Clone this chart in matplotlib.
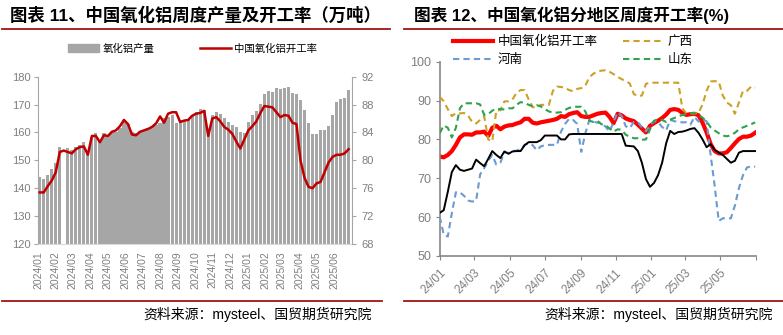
import matplotlib
matplotlib.use("Agg")
import matplotlib.pyplot as plt
from matplotlib.lines import Line2D
from matplotlib.patches import Patch
import numpy as np
import pandas as pd

plt.rcParams["font.family"] = ["Liberation Sans", "Noto Sans CJK SC", "DejaVu Sans"]

# ---- left panel: weekly alumina output (10k t) and operating rate (%) ----
output = [144.0, 143.4, 144.7, 146.8, 149.2, 154.7, np.nan, 154.3, 153.7, 154.9,
          155.5, 156.7, 152.5, 158.5, 159.7, 157.3, 159.7, 159.1, 160.3, 160.3,
          161.5, 163.9, 163.0, 160.3, 159.7, 160.5, 160.9, 161.5, 162.1, 162.7,
          163.3, 165.1, 165.7, 166.3, 163.3, 164.5, 164.5, 164.7, 166.3, 167.5,
          168.3, 168.0, 161.0, 166.3, 167.2, 166.8, 165.2, 163.7, 162.7, 162.0,
          160.2, 159.8, 163.6, 166.2, 167.6, 170.3, 173.8, 174.9, 174.6, 175.8,
          175.5, 176.0, 176.3, 174.2, 173.7, 171.5, 168.0, 163.5, 159.5, 159.6,
          160.8, 160.9, 162.2, 166.3, 171.1, 172.0, 172.3, 175.1]
op_rate = [75.4, 75.4, 76.3, 77.1, 78.3, 81.2, 81.4, 81.2, 81.0, 81.6,
           81.9, 82.0, 80.8, 83.5, 83.5, 82.6, 83.6, 83.5, 84.1, 84.3,
           84.9, 85.8, 85.2, 83.7, 83.6, 84.1, 84.3, 84.5, 84.8, 85.3,
           86.3, 85.4, 86.7, 86.9, 86.9, 85.5, 85.7, 85.8, 86.4, 86.7,
           86.8, 87.1, 83.5, 86.0, 86.2, 85.6, 84.8, 84.4, 83.8, 82.7,
           81.7, 83.0, 84.3, 84.9, 85.6, 86.8, 87.8, 87.7, 87.6, 86.9,
           86.2, 86.5, 86.4, 85.4, 85.2, 80.0, 77.5, 76.2, 76.0, 76.7,
           76.9, 78.3, 79.7, 80.5, 80.8, 80.8, 81.0, 81.6]
weeks_l = pd.date_range("2024-01-04", periods=len(output), freq="7D")
month_ticks = pd.date_range("2024-01-01", "2025-06-01", freq="MS")
month_labels = [d.strftime("%Y/%m") for d in month_ticks]

# ---- right panel: operating rate by region (%) ----
china = [75.6, 75.4, 76.0, 77.0, 78.6, 80.5, 81.3, 81.3, 81.2, 81.8,
         81.8, 82.0, 80.9, 83.0, 83.5, 82.6, 83.3, 83.6, 83.7, 84.1,
         84.4, 85.3, 85.3, 84.3, 84.1, 84.4, 84.6, 84.8, 85.0, 85.3,
         86.0, 85.8, 86.5, 86.8, 87.0, 86.0, 85.8, 85.8, 86.2, 86.6,
         86.8, 86.9, 85.8, 84.2, 86.6, 86.2, 85.4, 85.0, 84.7, 83.8,
         82.8, 81.8, 83.5, 84.2, 84.8, 85.5, 86.4, 87.6, 87.8, 87.6,
         86.8, 86.3, 86.5, 86.6, 86.2, 84.3, 81.8, 78.8, 77.0, 76.4,
         76.4, 76.7, 77.8, 79.0, 80.1, 80.7, 80.7, 81.0, 81.7]
other_region = [61.1, 61.8, 66.5, 71.6, 73.4, 72.2, 71.9, 72.2, 72.5, 74.8,
                73.9, 73.1, 75.0, 77.0, 76.0, 75.2, 76.9, 76.3, 76.9, 77.0,
                77.0, 78.5, 79.3, 79.3, 79.3, 79.8, 81.0, 81.0, 81.0, 81.0,
                80.0, 80.0, 81.3, 81.4, 81.4, 81.4, 81.4, 81.4, 81.4, 81.4,
                81.4, 81.4, 81.4, 81.4, 81.4, 81.4, 78.4, 78.3, 78.2, 77.0,
                74.0, 69.8, 67.8, 68.8, 70.8, 74.0, 79.0, 82.2, 81.4, 81.9,
                82.0, 82.3, 82.7, 82.9, 81.7, 80.0, 78.0, 78.8, 77.3, 76.6,
                76.0, 75.0, 74.0, 74.5, 76.6, 77.0, 77.0, 77.0, 77.0]
henan = [60.1, 55.5, 55.0, 61.0, 66.4, 66.4, 65.5, 64.3, 64.0, 64.2,
         71.0, 72.6, 74.5, 76.0, 73.5, 74.0, 76.7, 76.5, 77.0, 77.1,
         77.5, 78.6, 79.0, 78.5, 77.2, 78.2, 78.5, 78.6, 78.6, 78.6,
         82.0, 84.0, 85.3, 85.0, 84.0, 76.8, 81.5, 85.0, 84.6, 84.3,
         84.2, 83.3, 82.0, 84.5, 87.0, 86.0, 83.4, 82.9, 84.5, 84.5,
         83.1, 82.1, 83.6, 84.7, 84.5, 83.2, 82.3, 85.0, 84.7, 84.5,
         84.4, 84.4, 83.8, 85.8, 84.6, 85.0, 84.7, 76.0, 68.0, 59.0,
         59.7, 59.7, 59.7, 63.0, 67.5, 70.8, 72.8, 73.0, 73.0]
guangxi = [91.0, 89.8, 87.8, 86.0, 86.8, 86.7, 86.8, 86.2, 84.5, 84.1,
           85.0, 86.0, 80.0, 79.5, 87.5, 87.5, 89.8, 89.8, 90.3, 92.0,
           92.7, 92.7, 90.3, 88.3, 88.2, 88.9, 88.9, 88.9, 92.5, 93.6,
           93.5, 93.3, 92.7, 92.4, 93.0, 93.2, 93.8, 96.0, 96.9, 97.5,
           97.7, 97.8, 97.4, 96.8, 96.1, 95.5, 95.0, 94.4, 91.7, 91.1,
           91.3, 94.3, 94.6, 94.6, 94.6, 94.6, 94.6, 94.6, 94.6, 94.6,
           88.0, 86.7, 86.7, 86.7, 86.8, 89.0, 92.5, 94.9, 95.0, 94.9,
           91.3, 89.5, 88.8, 86.6, 89.5, 92.5, 92.5, 93.6, 93.3]
shandong = [81.6, 83.6, 83.0, 80.5, 83.0, 88.0, 89.3, 89.3, 89.3, 89.3,
            89.0, 86.3, 86.5, 87.4, 87.9, 87.8, 87.7, 88.0, 88.0, 88.9,
            89.6, 89.4, 88.9, 88.5, 88.8, 88.5, 87.8, 87.2, 86.9, 86.9,
            87.0, 87.6, 88.1, 88.4, 88.4, 88.4, 87.2, 84.8, 84.5, 84.8,
            83.9, 83.7, 82.8, 82.0, 82.6, 82.5, 81.2, 80.7, 80.3, 80.3,
            79.9, 80.0, 82.6, 84.8, 85.2, 85.0, 84.5, 85.1, 85.5, 85.9,
            86.3, 86.5, 86.7, 86.7, 86.3, 85.6, 84.6, 83.1, 82.3, 81.6,
            81.0, 80.8, 81.1, 81.7, 82.6, 83.1, 83.5, 83.9, 84.4]
weeks_r = pd.date_range("2024-01-01", periods=len(china), freq="7D")
bimonth_ticks = pd.date_range("2024-01-01", "2025-07-01", freq="2MS")
bimonth_labels = [d.strftime("%y/%m") for d in bimonth_ticks][:-1] + [""]

W, H = 783, 335
fig = plt.figure(figsize=(W / 100, H / 100), dpi=100)

gray_txt = "#7F7F7F"
axis_gray = "#A6A6A6"
rule_red = "#A31515"


def fx(px):
    return px / W


def fy(py):
    return 1 - py / H


# headers, rules and source notes
fig.text(fx(10), fy(15), "图表 11、中国氧化铝周度产量及开工率（万吨）",
         fontsize=12.5, fontweight="bold", va="center", ha="left")
fig.text(fx(414), fy(15), "图表 12、中国氧化铝分地区周度开工率(%)",
         fontsize=12, fontweight="bold", va="center", ha="left")
for x0, x1 in [(2, 390), (404, 783)]:
    fig.add_artist(Line2D([fx(x0), fx(x1)], [fy(29.3)] * 2, color=rule_red, lw=1.3))
for x0, x1 in [(2, 382), (404, 783)]:
    fig.add_artist(Line2D([fx(x0), fx(x1)], [fy(300.7)] * 2, color=rule_red, lw=1.3))
fig.text(fx(372), fy(314), "资料来源：mysteel、国贸期货研究院", fontsize=10,
         ha="right", va="center")
fig.text(fx(773), fy(314), "资料来源：mysteel、国贸期货研究院", fontsize=10,
         ha="right", va="center")

# ---- left panel ----
ax1 = fig.add_axes([fx(38), fy(244), fx(313.5), (244 - 76.7) / H])
ax1.bar(weeks_l, output, width=5.6, color="#A6A6A6", zorder=1)
ax1.set_ylim(120, 180)
ax1.set_yticks(np.arange(120, 181, 10))
ax1.set_xlim(pd.Timestamp("2024-01-01"), pd.Timestamp("2025-07-01"))
ax1.set_xticks(month_ticks)
ax1.set_xticklabels(month_labels, rotation=90, fontsize=7.5, color=gray_txt)
ax1.tick_params(axis="x", length=0, pad=5)
ax1.tick_params(axis="y", direction="out", length=3, color=axis_gray,
                labelcolor=gray_txt, labelsize=8, pad=2)
for s in ["top", "right"]:
    ax1.spines[s].set_visible(False)
ax1.spines["left"].set_color(axis_gray)
ax1.spines["bottom"].set_color("#D9D9D9")

ax2 = ax1.twinx()
ax2.plot(weeks_l, op_rate, color="#C00000", lw=1.8, zorder=3)
ax2.set_ylim(68, 92)
ax2.set_yticks(np.arange(68, 93, 4))
ax2.tick_params(axis="y", direction="out", length=3, color=axis_gray,
                labelcolor=gray_txt, labelsize=8, pad=4)
for s in ["top", "left", "bottom"]:
    ax2.spines[s].set_visible(False)
ax2.spines["right"].set_color(axis_gray)

fig.legend(handles=[Patch(color="#A6A6A6", label="氧化铝产量"),
                    Line2D([], [], color="#C00000", lw=1.8, label="中国氧化铝开工率")],
           loc="center left", bbox_to_anchor=(fx(68), fy(48.5)), ncol=2,
           frameon=False, fontsize=7.5, borderpad=0, borderaxespad=0,
           handlelength=3.0, handleheight=0.9, handletextpad=0.3, columnspacing=4.4)

# ---- right panel ----
ax3 = fig.add_axes([fx(439.7), fy(256), fx(316), (256 - 61.7) / H])
l_china, = ax3.plot(weeks_r, china, color="#FF0000", lw=3.0, label="中国氧化铝开工率", zorder=2)
l_gx, = ax3.plot(weeks_r, guangxi, color="#C9A227", lw=1.5, dashes=(3, 2), label="广西", zorder=3)
l_hn, = ax3.plot(weeks_r, henan, color="#6A9BD1", lw=1.5, dashes=(3, 2), label="河南", zorder=3)
l_sd, = ax3.plot(weeks_r, shandong, color="#2EA24E", lw=1.5, dashes=(3, 2), label="山东", zorder=3)
ax3.plot(weeks_r, other_region, color="black", lw=1.4, zorder=4)
ax3.set_ylim(50, 100)
ax3.set_yticks(np.arange(50, 101, 10))
ax3.set_xlim(pd.Timestamp("2024-01-01"), pd.Timestamp("2025-07-01"))
ax3.set_xticks(bimonth_ticks)
ax3.set_xticklabels(bimonth_labels, rotation=45, ha="right", va="top",
                    rotation_mode="anchor", fontsize=8.5, color=gray_txt)
ax3.tick_params(axis="x", direction="out", length=3, color="#868686", pad=5)
ax3.tick_params(axis="y", direction="out", length=3, color="#868686",
                labelcolor=gray_txt, labelsize=9, pad=3)
for s in ["top", "right"]:
    ax3.spines[s].set_visible(False)
for s in ["left", "bottom"]:
    ax3.spines[s].set_color("#868686")
    ax3.spines[s].set_linewidth(1.2)

fig.legend(handles=[l_china, l_hn, l_gx, l_sd], loc="upper left",
           bbox_to_anchor=(fx(453), fy(36)), ncol=2, frameon=False,
           fontsize=9, borderpad=0, borderaxespad=0, handlelength=3.2,
           handletextpad=0.4, columnspacing=2.0, labelspacing=0.45)

fig.savefig("out.png", dpi=100)
